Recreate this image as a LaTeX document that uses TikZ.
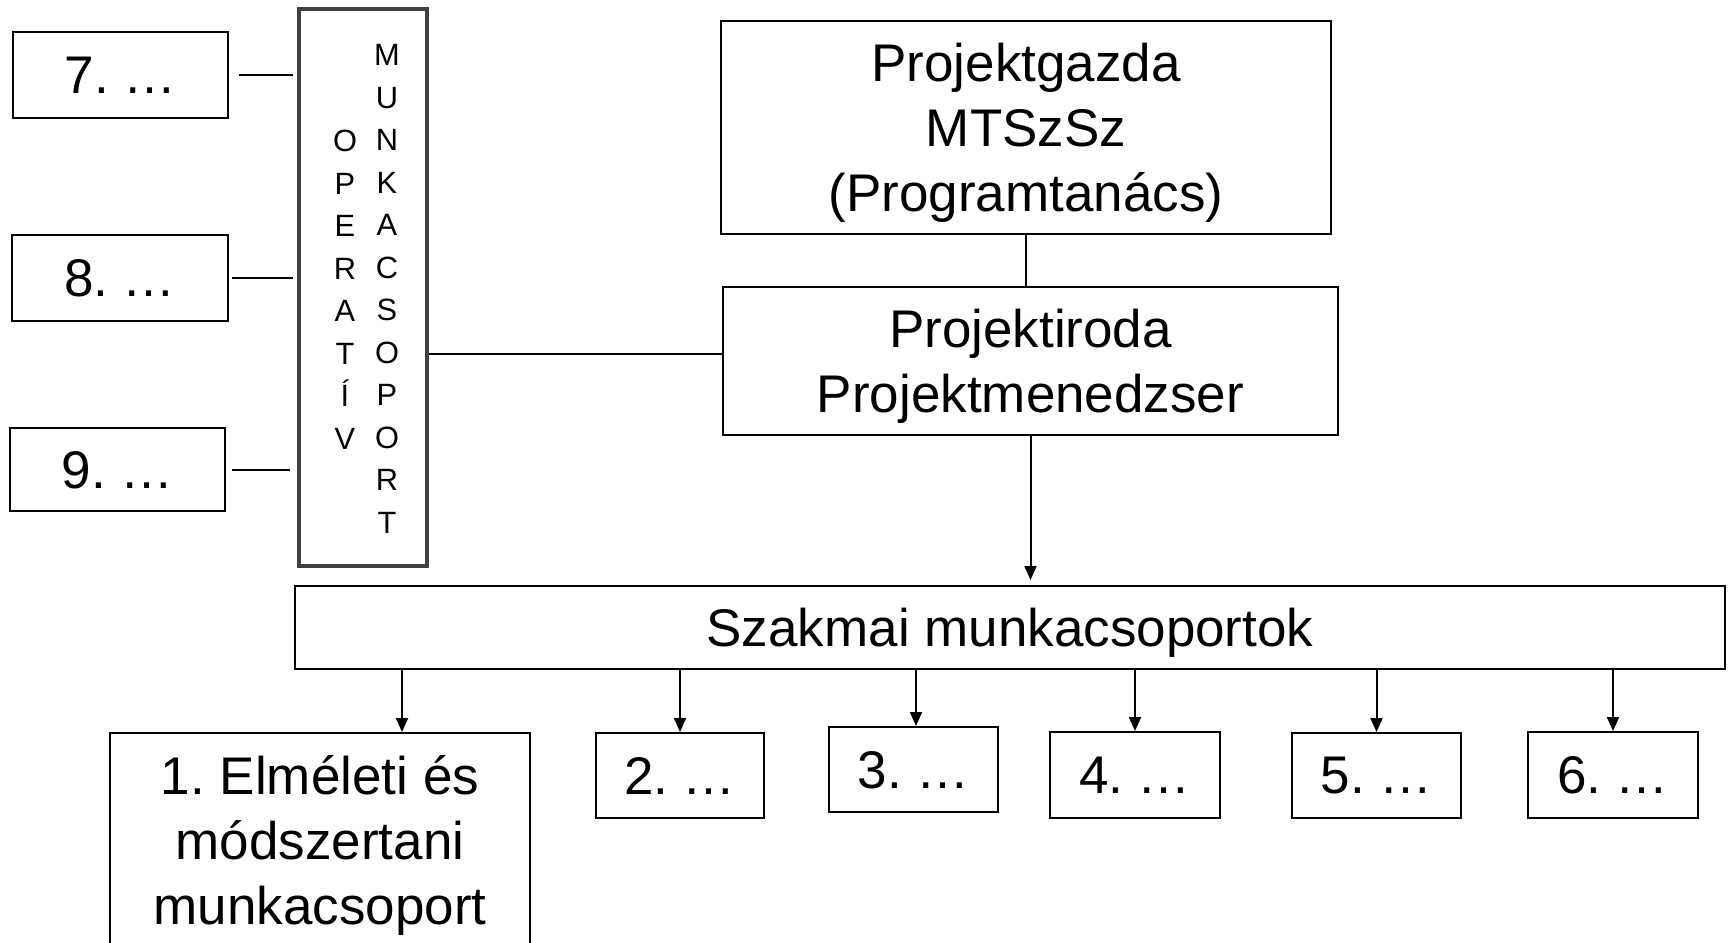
\documentclass[tikz,border=0pt]{standalone}
\usepackage{fontspec}
\setmainfont{Liberation Sans}
\usetikzlibrary{arrows.meta}
\begin{document}
\frenchspacing
\begin{tikzpicture}[x=0.5pt,y=-0.5pt,
  box/.style={draw=black, line width=1pt, inner sep=0pt, align=center, text depth=0pt,
    font=\fontsize{26.5pt}{32.5pt}\selectfont},
  opbox/.style={draw=black!75, line width=1.6pt, inner sep=0pt},
  vlet/.style={inner sep=0pt, align=center, font=\fontsize{15.4pt}{21.25pt}\selectfont},
  conn/.style={line width=1pt},
  arr/.style={line width=1pt, -{Triangle[length=7pt,width=6pt]}}
]
\useasboundingbox (0,0) rectangle (1728,942);
\fill[white] (0,0) rectangle (1728,942);
\clip (0,0) rectangle (1728,942);

% left side
\node[box, minimum width=107.5pt, minimum height=43pt] (b7) at (120.5,75) {7. …};
\node[box, minimum width=108pt, minimum height=43pt] (b8) at (120,278) {8. …};
\node[box, minimum width=107.5pt, minimum height=41.5pt] (b9) at (117.5,469.5) {9. …};
\node[opbox, minimum width=64pt, minimum height=278.5pt] (op) at (363,287.5) {};
\node[vlet] (opl) at (345,289.5) {O\\P\\E\\R\\A\\T\\Í\\V};
\node[vlet] (mkl) at (387,289) {M\\U\\N\\K\\A\\C\\S\\O\\P\\O\\R\\T};

% top right
\node[box, minimum width=305pt, minimum height=106.5pt] (pg) at (1026,127.5)
  {Projektgazda\\MTSzSz\\(Programtanács)};
\node[box, minimum width=307.5pt, minimum height=74pt] (pi) at (1030.5,361)
  {Projektiroda\\Projektmenedzser};

% main bar
\node[box, minimum width=715pt, minimum height=41.5pt] (sz) at (1010,627.5)
  {Szakmai munkacsoportok};

% bottom boxes
\node[box, minimum width=210pt, minimum height=140pt, anchor=north] (b1) at (320,732) {};
\node[inner sep=0pt, align=center, font=\fontsize{26.5pt}{32.5pt}\selectfont] (b1t) at (320,845)
  {1. Elméleti és\\módszertani\\munkacsoport};
\node[box, minimum width=84pt, minimum height=42.5pt] (b2) at (680,775.5) {2. …};
\node[box, minimum width=84.5pt, minimum height=42.5pt] (b3) at (913.5,769.5) {3. …};
\node[box, minimum width=85pt, minimum height=43pt] (b4) at (1135,775) {4. …};
\node[box, minimum width=84.5pt, minimum height=42.5pt] (b5) at (1376.5,775.5) {5. …};
\node[box, minimum width=85pt, minimum height=43pt] (b6) at (1613,775) {6. …};

% connectors left
\draw[conn, shorten <=5pt, shorten >=2pt] (b7.east) -- (b7.east -| op.west);
\draw[conn, shorten <=1.5pt, shorten >=2pt] (b8.east) -- (b8.east -| op.west);
\draw[conn, shorten <=3pt, shorten >=3.5pt] (b9.east) -- (b9.east -| op.west);
\coordinate (lk) at (0,354);
\draw[conn] (op.east |- lk) -- (pi.west |- lk);

% top connectors
\draw[conn] (pg.south) -- (pi.north -| pg.south);
\draw[arr, shorten >=2.5pt] (pi.south) -- (sz.north -| pi.south);

% arrows down
\coordinate (a1) at (402,0);
\draw[arr] (sz.south -| a1) -- (b1.north -| a1);
\draw[arr] (sz.south -| b2.north) -- (b2.north);
\coordinate (a3) at (916,0);
\draw[arr] (sz.south -| a3) -- (b3.north -| a3);
\draw[arr] (sz.south -| b4.north) -- (b4.north);
\draw[arr] (sz.south -| b5.north) -- (b5.north);
\draw[arr] (sz.south -| b6.north) -- (b6.north);
\end{tikzpicture}
\end{document}
